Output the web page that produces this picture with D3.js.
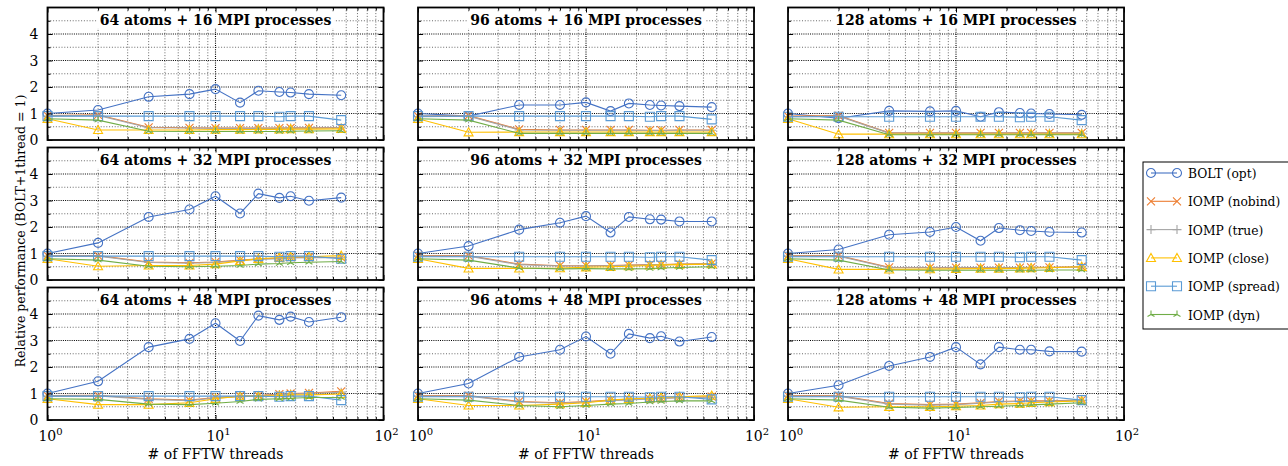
<!DOCTYPE html>
<html>
<head>
<meta charset="utf-8">
<script src="https://cdn.jsdelivr.net/npm/d3@7"></script>
<style>
  body { margin: 0; background: #fff; }
  text { font-family: "DejaVu Serif", serif; }
</style>
</head>
<body>
<svg id="chart" width="1288" height="466"></svg>
<script>
// thread counts on the x axis
const threads = [1, 2, 4, 7, 10, 14, 18, 24, 28, 36, 56];

const panelTitles = [
  "64 atoms + 16 MPI processes", "96 atoms + 16 MPI processes", "128 atoms + 16 MPI processes",
  "64 atoms + 32 MPI processes", "96 atoms + 32 MPI processes", "128 atoms + 32 MPI processes",
  "64 atoms + 48 MPI processes", "96 atoms + 48 MPI processes", "128 atoms + 48 MPI processes",
];

const seriesNames = ["BOLT (opt)", "IOMP (nobind)", "IOMP (true)", "IOMP (close)", "IOMP (spread)", "IOMP (dyn)"];
const seriesColors = ["#4472c4", "#ed7d31", "#a5a5a5", "#ffc000", "#5b9bd5", "#70ad47"];
const seriesMarkers = ["circle", "x", "plus", "triangle", "square", "tri"];

const yTicks = [0, 1, 2, 3, 4];
const xTickLabels = [1, 10, 100];

// one row per panel (reading order)
const boltOpt = [
  [1.0, 1.13, 1.63, 1.73, 1.92, 1.41, 1.86, 1.81, 1.79, 1.73, 1.69],
  [1.0, 0.9, 1.32, 1.32, 1.42, 1.09, 1.38, 1.32, 1.3, 1.28, 1.24],
  [1.0, 0.82, 1.1, 1.08, 1.1, 0.88, 1.05, 1.02, 1.0, 0.98, 0.95],
  [1.0, 1.4, 2.38, 2.66, 3.16, 2.51, 3.26, 3.1, 3.16, 2.99, 3.11],
  [1.0, 1.28, 1.9, 2.16, 2.41, 1.79, 2.38, 2.29, 2.28, 2.21, 2.21],
  [1.0, 1.15, 1.71, 1.81, 2.0, 1.48, 1.96, 1.88, 1.85, 1.81, 1.79],
  [1.0, 1.46, 2.75, 3.06, 3.65, 2.98, 3.94, 3.78, 3.9, 3.7, 3.88],
  [1.0, 1.38, 2.38, 2.65, 3.15, 2.5, 3.25, 3.09, 3.16, 2.96, 3.13],
  [1.0, 1.31, 2.04, 2.38, 2.75, 2.1, 2.75, 2.65, 2.65, 2.59, 2.58],
];
const iompNobind = [
  [0.92, 0.95, 0.48, 0.46, 0.45, 0.45, 0.45, 0.45, 0.46, 0.46, 0.47],
  [0.9, 0.92, 0.4, 0.38, 0.38, 0.38, 0.38, 0.37, 0.37, 0.38, 0.38],
  [0.9, 0.92, 0.27, 0.27, 0.27, 0.27, 0.27, 0.27, 0.27, 0.27, 0.27],
  [0.92, 0.92, 0.68, 0.65, 0.68, 0.75, 0.8, 0.82, 0.85, 0.85, 0.85],
  [0.92, 0.92, 0.6, 0.54, 0.54, 0.55, 0.56, 0.58, 0.58, 0.6, 0.62],
  [0.92, 0.92, 0.48, 0.47, 0.47, 0.47, 0.47, 0.47, 0.48, 0.48, 0.5],
  [0.92, 0.93, 0.8, 0.75, 0.85, 0.9, 0.92, 0.98, 1.0, 1.02, 1.08],
  [0.92, 0.92, 0.7, 0.65, 0.7, 0.75, 0.78, 0.8, 0.82, 0.85, 0.88],
  [0.92, 0.92, 0.62, 0.58, 0.6, 0.65, 0.7, 0.72, 0.72, 0.72, 0.75],
];
const iompTrue = [
  [0.9, 0.93, 0.46, 0.45, 0.44, 0.44, 0.44, 0.44, 0.45, 0.45, 0.46],
  [0.88, 0.9, 0.38, 0.37, 0.37, 0.37, 0.37, 0.36, 0.36, 0.37, 0.37],
  [0.88, 0.9, 0.26, 0.26, 0.26, 0.26, 0.26, 0.26, 0.26, 0.26, 0.26],
  [0.9, 0.9, 0.66, 0.63, 0.66, 0.73, 0.78, 0.8, 0.83, 0.84, 0.84],
  [0.9, 0.9, 0.58, 0.53, 0.53, 0.54, 0.55, 0.57, 0.57, 0.59, 0.61],
  [0.9, 0.9, 0.46, 0.46, 0.46, 0.46, 0.46, 0.46, 0.47, 0.47, 0.49],
  [0.9, 0.91, 0.78, 0.73, 0.83, 0.88, 0.9, 0.96, 0.98, 1.0, 1.05],
  [0.9, 0.9, 0.68, 0.63, 0.68, 0.73, 0.76, 0.79, 0.81, 0.84, 0.86],
  [0.9, 0.9, 0.6, 0.56, 0.58, 0.63, 0.68, 0.7, 0.71, 0.71, 0.74],
];
const iompClose = [
  [0.8, 0.38, 0.38, 0.38, 0.39, 0.39, 0.4, 0.4, 0.41, 0.41, 0.42],
  [0.8, 0.29, 0.3, 0.3, 0.3, 0.3, 0.3, 0.3, 0.3, 0.3, 0.3],
  [0.8, 0.22, 0.22, 0.22, 0.22, 0.22, 0.22, 0.22, 0.22, 0.22, 0.22],
  [0.8, 0.52, 0.55, 0.55, 0.6, 0.72, 0.8, 0.85, 0.88, 0.88, 0.92],
  [0.8, 0.44, 0.44, 0.45, 0.48, 0.5, 0.52, 0.55, 0.57, 0.58, 0.6],
  [0.8, 0.4, 0.4, 0.41, 0.42, 0.43, 0.43, 0.44, 0.45, 0.46, 0.5],
  [0.8, 0.58, 0.58, 0.65, 0.8, 0.9, 0.9, 0.92, 0.95, 0.95, 0.98],
  [0.8, 0.55, 0.55, 0.6, 0.65, 0.75, 0.8, 0.82, 0.85, 0.88, 0.92],
  [0.8, 0.48, 0.5, 0.5, 0.52, 0.55, 0.6, 0.62, 0.65, 0.68, 0.72],
];
const iompSpread = [
  [0.9, 0.9, 0.9, 0.9, 0.9, 0.9, 0.9, 0.88, 0.9, 0.9, 0.75],
  [0.9, 0.9, 0.9, 0.9, 0.9, 0.9, 0.9, 0.88, 0.9, 0.9, 0.78],
  [0.88, 0.88, 0.88, 0.88, 0.88, 0.88, 0.88, 0.86, 0.88, 0.88, 0.75],
  [0.9, 0.9, 0.9, 0.9, 0.9, 0.9, 0.9, 0.88, 0.9, 0.9, 0.8],
  [0.88, 0.88, 0.88, 0.88, 0.88, 0.88, 0.88, 0.86, 0.88, 0.88, 0.75],
  [0.88, 0.88, 0.88, 0.88, 0.88, 0.88, 0.88, 0.86, 0.88, 0.88, 0.75],
  [0.9, 0.9, 0.9, 0.9, 0.9, 0.9, 0.9, 0.88, 0.9, 0.9, 0.75],
  [0.88, 0.88, 0.88, 0.88, 0.88, 0.88, 0.88, 0.86, 0.88, 0.88, 0.78],
  [0.88, 0.88, 0.88, 0.88, 0.88, 0.88, 0.88, 0.86, 0.88, 0.88, 0.75],
];
const iompDyn = [
  [0.8, 0.75, 0.33, 0.32, 0.32, 0.32, 0.32, 0.32, 0.33, 0.34, 0.35],
  [0.8, 0.75, 0.25, 0.25, 0.25, 0.25, 0.25, 0.25, 0.25, 0.25, 0.25],
  [0.8, 0.75, 0.2, 0.2, 0.2, 0.2, 0.2, 0.2, 0.2, 0.2, 0.2],
  [0.8, 0.75, 0.52, 0.5, 0.52, 0.55, 0.6, 0.62, 0.65, 0.67, 0.7],
  [0.8, 0.75, 0.45, 0.42, 0.43, 0.42, 0.42, 0.43, 0.45, 0.47, 0.5],
  [0.8, 0.75, 0.38, 0.37, 0.37, 0.37, 0.37, 0.37, 0.37, 0.38, 0.38],
  [0.8, 0.78, 0.6, 0.58, 0.63, 0.7, 0.78, 0.8, 0.82, 0.85, 0.85],
  [0.8, 0.75, 0.55, 0.5, 0.55, 0.6, 0.62, 0.68, 0.7, 0.72, 0.72],
  [0.8, 0.75, 0.48, 0.45, 0.47, 0.5, 0.52, 0.55, 0.57, 0.6, 0.65],
];
const allSeries = [boltOpt, iompNobind, iompTrue, iompClose, iompSpread, iompDyn];

const svg = d3.select("#chart");
const colLeft = [47.5, 418, 788];
const rowTop = [7.5, 147.5, 287.5];
const pw = 336;
const ph = 132.5;

const x = d3.scaleLog().domain([1, 100]).range([0, pw]);
const y = d3.scaleLinear().domain([0, 5]).range([ph, 0]);

const xMinor = [2, 3, 4, 5, 6, 7, 8, 9, 20, 30, 40, 50, 60, 70, 80, 90];
const yMinor = [0.5, 1.5, 2.5, 3.5, 4.5];

const markerPath = (type) => {
  const s = 4.5;
  if (type === "circle") return d3.symbol(d3.symbolCircle, Math.PI * s * s)();
  if (type === "square") return `M${-s},${-s}H${s}V${s}H${-s}Z`;
  if (type === "triangle") return `M0,${-s}L${s},${s * 0.8}H${-s}Z`;
  if (type === "x") return `M-4,-4L4,4M-4,4L4,-4`;
  if (type === "plus") return `M-4.5,0H4.5M0,-4.5V4.5`;
  if (type === "tri") return `M0,0V-4M0,0L-3.5,2M0,0L3.5,2`;
};

panelTitles.forEach((title, p) => {
  const row = Math.floor(p / 3);
  const col = p % 3;
  const g = svg.append("g").attr("transform", `translate(${colLeft[col]},${rowTop[row]})`);

  // grid
  g.selectAll(".gx")
    .data(xMinor)
    .join("line")
    .attr("x1", (d) => x(d)).attr("x2", (d) => x(d))
    .attr("y1", 0).attr("y2", ph)
    .attr("stroke", "#444").attr("stroke-width", 0.8).attr("stroke-dasharray", "1,1.8");
  g.append("line")
    .attr("x1", x(10)).attr("x2", x(10)).attr("y1", 0).attr("y2", ph)
    .attr("stroke", "#000").attr("stroke-width", 1.1).attr("stroke-dasharray", "1,1.2");
  g.selectAll(".gy")
    .data(yMinor)
    .join("line")
    .attr("x1", 0).attr("x2", pw)
    .attr("y1", (d) => y(d)).attr("y2", (d) => y(d))
    .attr("stroke", "#444").attr("stroke-width", 0.8).attr("stroke-dasharray", "1,1.8");
  g.selectAll(".gy2")
    .data(yTicks.slice(1))
    .join("line")
    .attr("x1", 0).attr("x2", pw)
    .attr("y1", (d) => y(d)).attr("y2", (d) => y(d))
    .attr("stroke", "#000").attr("stroke-width", 1.1).attr("stroke-dasharray", "1,1.2");

  // title with white box behind it
  const t = g.append("text")
    .attr("x", pw / 2).attr("y", 17.5)
    .attr("text-anchor", "middle")
    .attr("font-size", 14).attr("font-weight", "bold")
    .text(title);
  const bb = t.node().getBBox();
  g.insert("rect", "text")
    .attr("x", bb.x - 3).attr("y", bb.y).attr("width", bb.width + 6).attr("height", bb.height)
    .attr("fill", "#fff");

  // series
  const line = d3.line().x((d, i) => x(threads[i])).y((d) => y(d));
  allSeries.forEach((series, s) => {
    const vals = series[p];
    g.append("path")
      .attr("d", line(vals))
      .attr("fill", "none")
      .attr("stroke", seriesColors[s])
      .attr("stroke-width", 1.1);
    g.selectAll(".m" + s)
      .data(vals)
      .join("path")
      .attr("transform", (d, i) => `translate(${x(threads[i])},${y(d)})`)
      .attr("d", markerPath(seriesMarkers[s]))
      .attr("fill", "none")
      .attr("stroke", seriesColors[s])
      .attr("stroke-width", 1.1);
  });

  // inward ticks on all sides
  const xMaj = [1, 10, 100];
  g.append("g").attr("transform", `translate(0,${ph})`)
    .call(d3.axisBottom(x).tickValues(xMaj).tickSize(-5).tickFormat(""));
  g.append("g").attr("transform", `translate(0,${ph})`)
    .call(d3.axisBottom(x).tickValues(xMinor).tickSize(-3).tickFormat(""));
  g.append("g").call(d3.axisTop(x).tickValues(xMaj).tickSize(-5).tickFormat(""));
  g.append("g").call(d3.axisTop(x).tickValues(xMinor).tickSize(-3).tickFormat(""));
  g.append("g").call(d3.axisLeft(y).tickValues(yTicks).tickSize(-5).tickFormat(""));
  g.append("g").call(d3.axisLeft(y).tickValues(yMinor).tickSize(-3).tickFormat(""));
  g.append("g").attr("transform", `translate(${pw},0)`)
    .call(d3.axisRight(y).tickValues(yTicks).tickSize(-5).tickFormat(""));
  g.append("g").attr("transform", `translate(${pw},0)`)
    .call(d3.axisRight(y).tickValues(yMinor).tickSize(-3).tickFormat(""));
  g.selectAll(".domain").remove();
  g.selectAll(".tick line").attr("stroke", "#000").attr("stroke-width", 1);

  g.append("rect")
    .attr("width", pw).attr("height", ph)
    .attr("fill", "none").attr("stroke", "#000").attr("stroke-width", 1.8);

  // y tick labels on the left column
  if (col === 0) {
    g.selectAll(".yl")
      .data(yTicks)
      .join("text")
      .attr("x", -9).attr("y", (d) => y(d) + 5)
      .attr("text-anchor", "end")
      .attr("font-size", 14)
      .text((d) => d);
  }
  // x tick labels on the bottom row
  if (row === 2) {
    xTickLabels.forEach((v) => {
      const lbl = g.append("text")
        .attr("x", x(v) + 3).attr("y", ph + 21)
        .attr("text-anchor", "middle")
        .attr("font-size", 14);
      lbl.append("tspan").text("10");
      lbl.append("tspan").attr("dy", -6).attr("font-size", 10).text(Math.log10(v));
    });
    g.append("text")
      .attr("x", pw / 2).attr("y", ph + 39)
      .attr("text-anchor", "middle")
      .attr("font-size", 14)
      .text("# of FFTW threads");
  }
});

// y axis label
svg.append("text")
  .attr("transform", "translate(25,231) rotate(-90)")
  .attr("text-anchor", "middle")
  .attr("font-size", 12.5)
  .text("Relative performance (BOLT+1thread = 1)");

// legend
const lg = svg.append("g").attr("transform", "translate(1143,162)");
lg.append("rect")
  .attr("width", 150).attr("height", 167)
  .attr("fill", "#fff").attr("stroke", "#000").attr("stroke-width", 1);
seriesNames.forEach((name, s) => {
  const cy = 11 + s * 28.3;
  lg.append("line")
    .attr("x1", 8).attr("x2", 34).attr("y1", cy).attr("y2", cy)
    .attr("stroke", seriesColors[s]).attr("stroke-width", 1.1);
  [8, 34].forEach((mx) => {
    lg.append("path")
      .attr("transform", `translate(${mx},${cy})`)
      .attr("d", markerPath(seriesMarkers[s]))
      .attr("fill", "none")
      .attr("stroke", seriesColors[s])
      .attr("stroke-width", 1.1);
  });
  lg.append("text")
    .attr("x", 45).attr("y", cy + 5)
    .attr("font-size", 12.3)
    .text(name);
});
</script>
</body>
</html>
